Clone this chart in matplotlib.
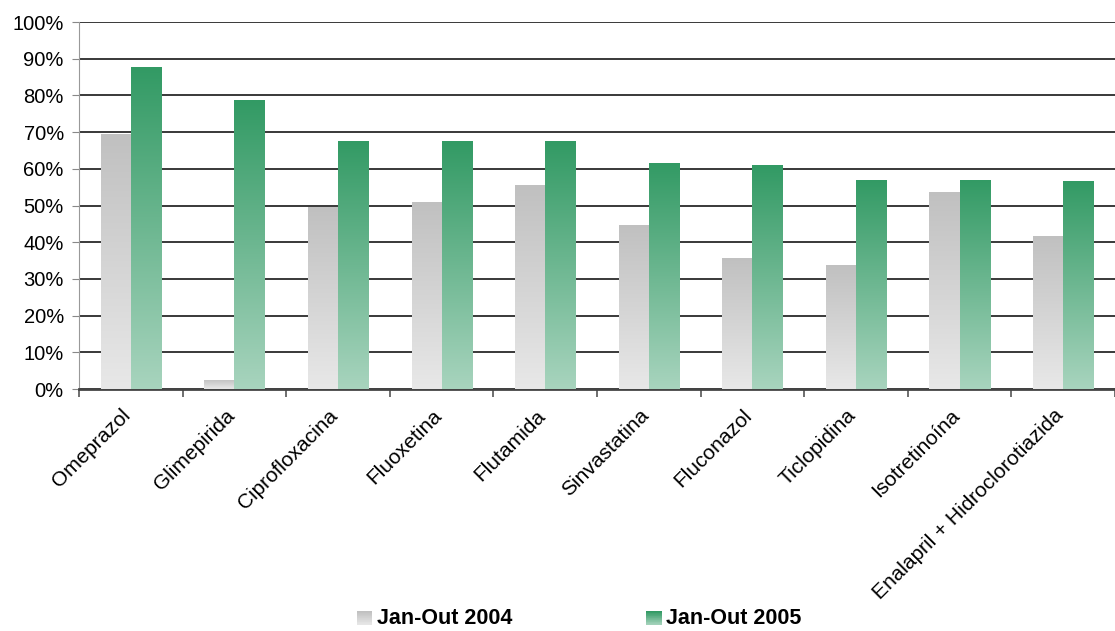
import numpy as np
import matplotlib
matplotlib.use('Agg')
from matplotlib import pyplot as plt
from matplotlib.colors import LinearSegmentedColormap
from matplotlib.patches import Rectangle
from matplotlib.legend_handler import HandlerBase
from matplotlib.transforms import ScaledTranslation

categories = ['Omeprazol', 'Glimepirida', 'Ciprofloxacina', 'Fluoxetina', 'Flutamida',
              'Sinvastatina', 'Fluconazol', 'Ticlopidina', 'Isotretinoína',
              'Enalapril + Hidroclorotiazida']
jan_out_2004 = [69.5, 2.5, 49.5, 51.0, 55.5, 44.8, 35.8, 33.8, 53.7, 41.7]
jan_out_2005 = [87.7, 78.7, 67.7, 67.5, 67.5, 61.7, 61.0, 57.0, 57.0, 56.7]
series_names = ['Jan-Out 2004', 'Jan-Out 2005']

gray_cmap = LinearSegmentedColormap.from_list('g', ['#e8e8e8', '#c0c0c0'])
green_cmap = LinearSegmentedColormap.from_list('v', ['#a8d4be', '#329a64'])

plt.rcParams['font.family'] = ['Liberation Sans', 'DejaVu Sans']

fig = plt.figure(figsize=(11.15, 6.31), dpi=100)
ax = fig.add_axes([0.0709, 0.3835, 0.929, 0.5815])

x = np.arange(len(categories))
w = 0.29
grad = np.linspace(0, 1, 256).reshape(-1, 1)


def gradient_bars(xs, vals, cmap):
    bars = ax.bar(xs, vals, w, color='none', edgecolor='none', zorder=3)
    for b in bars:
        x0, y0 = b.get_x(), b.get_y()
        im = ax.imshow(grad, cmap=cmap, origin='lower', aspect='auto',
                       extent=[x0, x0 + b.get_width(), y0, y0 + b.get_height()],
                       zorder=3, interpolation='bilinear')
        im.set_clip_path(b)


gradient_bars(x - w / 2, jan_out_2004, gray_cmap)
gradient_bars(x + w / 2, jan_out_2005, green_cmap)

ax.set_xlim(-0.5, len(categories) - 0.5)
ax.set_ylim(0, 100)
ax.set_yticks(np.arange(0, 101, 10))
ax.set_yticklabels([f'{v}%' for v in range(0, 101, 10)], fontsize=14.5)
ax.yaxis.grid(True, color='#2a2a2a', linewidth=1.3)
ax.set_axisbelow(True)

ax.set_xticks(x)
ax.set_xticklabels(categories, rotation=45, ha='right', va='center',
                   rotation_mode='anchor', fontsize=15)
ax.tick_params(axis='x', length=0, pad=17)
shift = ScaledTranslation(-3 / 100, 0, fig.dpi_scale_trans)
for lbl in ax.get_xticklabels():
    lbl.set_transform(lbl.get_transform() + shift)
ax.set_xticks(np.arange(-0.5, len(categories)), minor=True)
ax.tick_params(axis='x', which='minor', length=6, width=1.2, color='#555555')
ax.tick_params(axis='y', length=5, color='#888888', pad=6)

for s in ['top', 'right']:
    ax.spines[s].set_visible(False)
ax.spines['left'].set_color('#999999')
ax.spines['bottom'].set_color('#444444')
ax.spines['bottom'].set_linewidth(2)


class GradHandler(HandlerBase):
    def __init__(self, cmap):
        super().__init__()
        self.cmap = cmap

    def create_artists(self, legend, orig_handle, xdescent, ydescent, width, height, fontsize, trans):
        arts = []
        n = 20
        sw, sh = 11, 10
        x0 = width - sw
        for i in range(n):
            r = Rectangle((x0 - xdescent, -ydescent + sh * i / n - 1), sw, sh / n + 0.2,
                          facecolor=self.cmap(i / (n - 1)), edgecolor='none', transform=trans)
            arts.append(r)
        return arts


h1 = Rectangle((0, 0), 1, 1)
h2 = Rectangle((0, 0), 1, 1)
fig.legend([h1, h2], series_names, loc='center', bbox_to_anchor=(0.519, 0.02), ncol=2,
           frameon=False, prop={'weight': 'bold', 'size': 15.5}, handlelength=0.75,
           handletextpad=0.2, columnspacing=6.2, borderpad=0.2,
           handler_map={h1: GradHandler(gray_cmap), h2: GradHandler(green_cmap)})

fig.savefig('out.png', dpi=100)
